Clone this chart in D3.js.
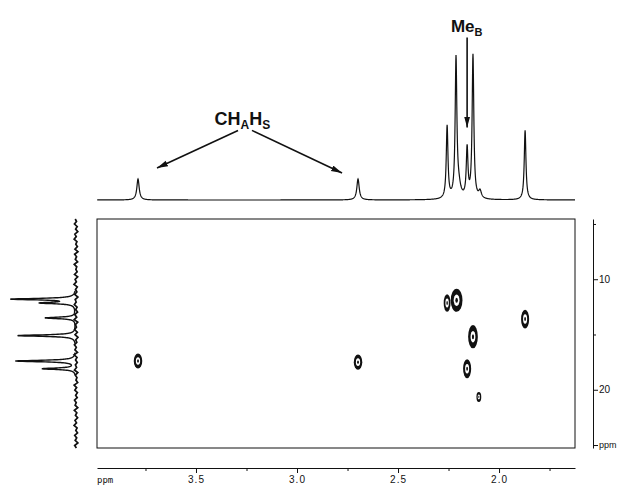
<!DOCTYPE html>
<html>
<head>
<meta charset="utf-8">
<script src="https://cdn.jsdelivr.net/npm/d3@7"></script>
<style>
  body { margin: 0; background: #fff; }
  svg { display: block; }
</style>
</head>
<body>
<svg id="chart" width="621" height="488"></svg>
<script>
// 1H axis (ppm)
var protonTicks = [3.5, 3.0, 2.5, 2.0];
var protonMinor = [3.75, 3.25, 2.75, 2.25, 1.75];
// 13C axis (ppm)
var carbonTicks = [10, 20, 25];
var carbonMinor = [5, 15];

// 1H projection (top): shift, height, half width (ppm)
var hShift  = [3.787, 2.698, 2.257, 2.213, 2.200, 2.158, 2.129, 2.094, 1.871];
var hHeight = [14.5, 14.5, 50, 95, 8, 34, 99, 5, 48];
var hWidth  = [0.007, 0.007, 0.005, 0.005, 0.012, 0.005, 0.005, 0.008, 0.005];

// 13C projection (left)
var cShift  = [11.8, 12.15, 13.5, 15.1, 17.4, 18.1];
var cHeight = [100, 53, 48, 91, 94, 52];
var cNoise  = [1.2,-0.8,2.4,-1.9,0.6,-2.8,1.8,-0.4,2.9,-1.5,0.3,-2.2,1.6,-3.0,2.1,-0.9,1.1,-2.5,2.7,-1.2,
               0.2,-1.8,2.3,-2.6,1.4,-0.6,3.1,-2.0,0.8,-1.4,2.0,-2.9,1.3,-0.3,2.6,-1.7,0.5,-2.4,1.9,-1.1,
               2.8,-2.7,0.9,-0.7,2.2,-2.1,1.5,-3.1,0.4,-1.3,2.5,-0.5,1.7,-2.3,3.0,-1.6,0.7,-2.0,1.0,-0.9,
               2.4,-2.8,1.2,-1.5,0.1,-2.6,2.9,-1.0,1.8,-2.2,0.6,-1.9,2.3,-0.4,1.4,-2.7,2.6,-1.3,0.9,-2.5,
               1.6,-0.8,3.0,-1.7,0.3,-2.4,2.0,-1.1,1.3,-2.9,2.1,-0.6];

// cross peaks: 1H shift, 13C shift, half widths (ppm)
var xpH  = [3.787, 2.698, 2.257, 2.210, 2.129, 2.158, 2.100, 1.871];
var xpC  = [17.4, 17.5, 12.15, 11.9, 15.2, 18.1, 20.65, 13.6];
var xpHW = [0.021, 0.021, 0.017, 0.029, 0.024, 0.02, 0.012, 0.02];
var xpCW = [0.68, 0.68, 0.8, 1.05, 1.05, 0.85, 0.45, 0.85];

var svg = d3.select("#chart");
var ink = "#111";

var x = d3.scaleLinear().domain([3.99, 1.624]).range([97, 575]);
var c = d3.scaleLinear().domain([4.55, 25.27]).range([219, 448]);
var topY = d3.scaleLinear().domain([0, 100]).range([200, 55]);
var leftX = d3.scaleLinear().domain([0, 100]).range([76, 12]);

function lorentz(pos, shifts, heights, widths) {
  var s = 0;
  for (var i = 0; i < shifts.length; i++) {
    var w = widths[i];
    var d = pos - shifts[i];
    s += heights[i] * w * w / (d * d + w * w);
  }
  return s;
}

// frame of 2D plot
svg.append("rect")
  .attr("x", x.range()[0]).attr("y", c.range()[0])
  .attr("width", x.range()[1] - x.range()[0])
  .attr("height", c.range()[1] - c.range()[0])
  .attr("fill", "none").attr("stroke", ink).attr("stroke-width", 1);

// top 1H spectrum
var topPts = d3.range(x.domain()[1], x.domain()[0], 0.001).map(function(p) {
  return { p: p, v: lorentz(p, hShift, hHeight, hWidth) };
});
svg.append("path")
  .datum(topPts)
  .attr("fill", "none").attr("stroke", ink).attr("stroke-width", 1.2)
  .attr("d", d3.line().x(d => x(d.p)).y(d => topY(d.v)));

// left 13C projection: noisy baseline + peaks
var cd = c.domain();
var noisePts = cNoise.map(function(v, i) {
  return { c: cd[0] + i * (cd[1] - cd[0]) / (cNoise.length - 1), v: v };
});
svg.append("path")
  .datum(noisePts)
  .attr("fill", "none").attr("stroke", ink).attr("stroke-width", 1.7)
  .attr("d", d3.line().x(d => leftX(d.v)).y(d => c(d.c)));

var cW = cShift.map(() => 0.08);
var leftPts = d3.range(cd[0], cd[1], 0.01).map(function(p) {
  return { c: p, v: lorentz(p, cShift, cHeight, cW) };
});
svg.append("path")
  .datum(leftPts)
  .attr("fill", "none").attr("stroke", ink).attr("stroke-width", 1.4)
  .attr("d", d3.line().defined(d => d.v > 1.5).x(d => leftX(d.v)).y(d => c(d.c)));

// cross peaks (contours): dark outer level, open middle, small core
var xp = xpH.map((h, i) => ({ h: h, c: xpC[i], hw: xpHW[i], cw: xpCW[i] }));
var levels = [{ k: 1, fill: ink }, { k: 0.5, fill: "#fff" }, { k: 0.22, fill: ink }];
var gx = svg.append("g");
levels.forEach(function(lv, j) {
  gx.selectAll("ellipse.l" + j).data(xp).enter().append("ellipse")
    .attr("class", "l" + j)
    .attr("cx", d => x(d.h)).attr("cy", d => c(d.c))
    .attr("rx", d => (x(d.h - d.hw) - x(d.h)) * lv.k)
    .attr("ry", d => (c(d.c + d.cw) - c(d.c)) * lv.k)
    .attr("fill", lv.fill);
});

// bottom 1H axis
var axB = svg.append("g")
  .attr("transform", "translate(0,468)")
  .attr("font-family", "DejaVu Sans Mono").attr("font-size", 10)
  .call(d3.axisBottom(x).tickValues(protonTicks).tickSize(5).tickSizeOuter(0)
        .tickPadding(3).tickFormat(d3.format(".1f")));
axB.selectAll("text").attr("fill", ink).attr("letter-spacing", 1);
axB.selectAll("line,path").attr("stroke", ink);
var axBm = svg.append("g")
  .attr("transform", "translate(0,468)")
  .call(d3.axisBottom(x).tickValues(protonMinor).tickSize(3).tickFormat(""));
axBm.select(".domain").remove();
axBm.selectAll("line").attr("stroke", ink);
svg.append("text")
  .attr("x", x.range()[0]).attr("y", 483)
  .attr("font-family", "DejaVu Sans Mono").attr("font-size", 9)
  .attr("fill", ink).text("ppm");

// right 13C axis
var axR = svg.append("g")
  .attr("transform", "translate(593,0)")
  .attr("font-family", "DejaVu Sans Mono").attr("font-size", 10)
  .call(d3.axisRight(c).tickValues(carbonTicks).tickSize(5).tickSizeOuter(0)
        .tickPadding(1).tickFormat(d => d === 25 ? "ppm" : d));
axR.selectAll("text").attr("fill", ink);
axR.selectAll("line,path").attr("stroke", ink);
axR.selectAll(".tick").filter(d => d === 25).select("text").attr("font-size", 9);
var axRm = svg.append("g")
  .attr("transform", "translate(593,0)")
  .call(d3.axisRight(c).tickValues(carbonMinor).tickSize(3).tickFormat(""));
axRm.select(".domain").remove();
axRm.selectAll("line").attr("stroke", ink);

// annotations
var defs = svg.append("defs");
defs.append("marker")
  .attr("id", "head").attr("markerUnits", "userSpaceOnUse")
  .attr("markerWidth", 12).attr("markerHeight", 8)
  .attr("refX", 11).attr("refY", 3).attr("orient", "auto")
  .append("path").attr("d", "M0,0 L11,3 L0,6 z").attr("fill", ink);

var chArrows = [
  { from: [3.292, 48], to: [3.693, 22] },
  { from: [3.223, 48], to: [2.777, 18.6] }
];
svg.selectAll("line.ann").data(chArrows).enter().append("line")
  .attr("class", "ann")
  .attr("x1", d => x(d.from[0])).attr("y1", d => topY(d.from[1]))
  .attr("x2", d => x(d.to[0])).attr("y2", d => topY(d.to[1]))
  .attr("stroke", ink).attr("stroke-width", 1.6)
  .attr("marker-end", "url(#head)");

var chLabel = svg.append("text")
  .attr("x", x(3.27)).attr("y", topY(52))
  .attr("text-anchor", "middle")
  .attr("font-family", "Liberation Sans").attr("font-weight", "bold")
  .attr("font-size", 18).attr("fill", ink);
chLabel.append("tspan").text("CH");
chLabel.append("tspan").attr("font-size", 12).attr("dy", 4).text("A");
chLabel.append("tspan").attr("dy", -4).text("H");
chLabel.append("tspan").attr("font-size", 12).attr("dy", 4).text("S");

svg.append("line")
  .attr("x1", x(2.158)).attr("y1", topY(112))
  .attr("x2", x(2.158)).attr("y2", topY(50))
  .attr("stroke", ink).attr("stroke-width", 1.6)
  .attr("marker-end", "url(#head)");

var meLabel = svg.append("text")
  .attr("x", x(2.16)).attr("y", topY(116))
  .attr("text-anchor", "middle")
  .attr("font-family", "Liberation Sans").attr("font-weight", "bold")
  .attr("font-size", 17).attr("fill", ink);
meLabel.append("tspan").text("Me");
meLabel.append("tspan").attr("font-size", 11).attr("dy", 4).text("B");
</script>
</body>
</html>
